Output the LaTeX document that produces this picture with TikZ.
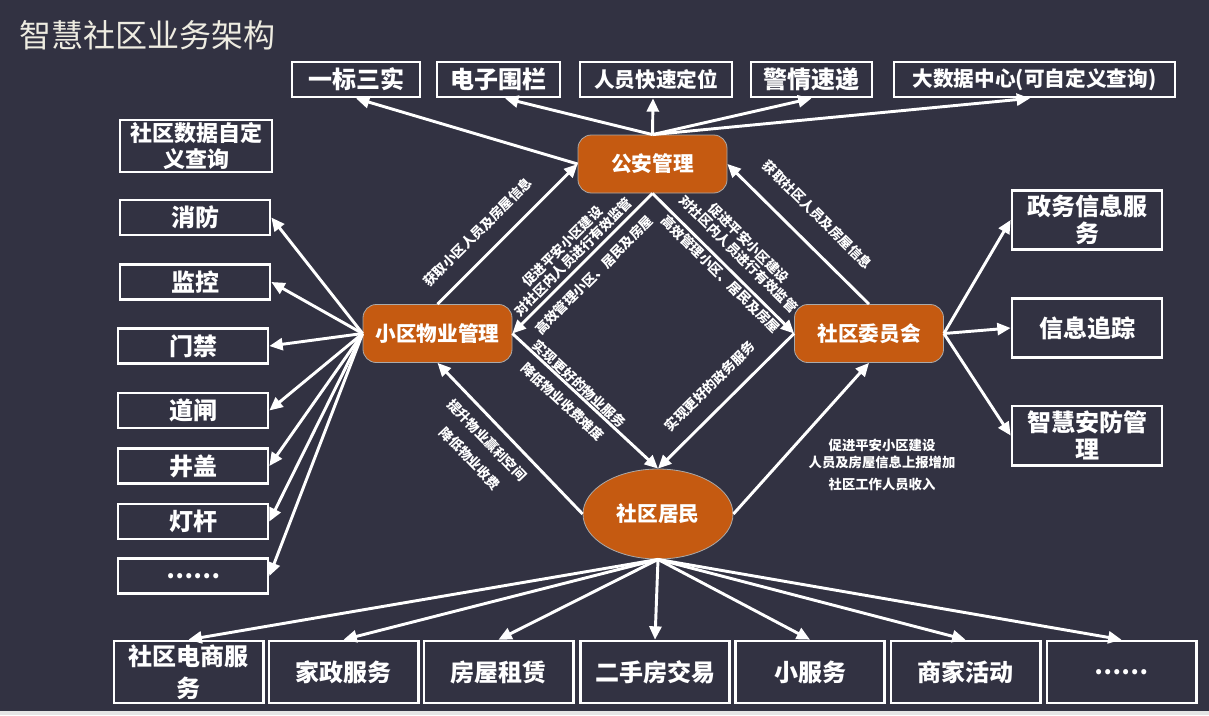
\documentclass[tikz,border=0pt]{standalone}
\usepackage{fontspec}
\setmainfont{Noto Sans CJK SC}
\usetikzlibrary{arrows.meta,shapes.geometric,calc}
\definecolor{bg}{RGB}{50,50,66}
\definecolor{org}{RGB}{197,90,17}
\definecolor{ttl}{RGB}{238,236,225}
\definecolor{edgegray}{RGB}{170,170,170}
\begin{document}
\begin{tikzpicture}[x=0.75pt,y=-0.75pt,
  bx/.style={draw=white, line width=2pt, text=white, inner sep=0pt, align=center,
    font=\bfseries\fontsize{18}{20.5}\selectfont},
  topbox/.style={bx, minimum height=26.25pt},
  lbox/.style={bx, minimum width=112.5pt, minimum height=26.25pt},
  rbox/.style={bx, minimum width=112.5pt, minimum height=44.5pt},
  bbox/.style={bx, minimum width=112pt, minimum height=46.5pt},
  core/.style={draw=edgegray, line width=0.6pt, fill=org, rounded corners=10pt, text=white,
    font=\bfseries\fontsize{15.5}{18}\selectfont, minimum width=111.75pt, minimum height=43.5pt, inner sep=0pt},
  arr/.style={draw=white, line width=2.2pt, -{Triangle[length=10pt,width=9pt]}},
  arrL/.style={draw=white, line width=2.2pt, {Triangle[length=10pt,width=9pt]}-},
  lab/.style={text=white, font=\bfseries\fontsize{10}{11.25}\selectfont, sloped, inner sep=0.5pt, align=center},
  hlab/.style={text=white, font=\bfseries\fontsize{10}{12}\selectfont, inner sep=0pt}
]
\fill[bg] (0,0) rectangle (1209,715);
\fill[gray!20] (0,711) rectangle (1209,715);
\useasboundingbox (0,0) rectangle (1209,715);

% title
\node[anchor=west, inner sep=0pt, text=ttl, font=\fontsize{24}{28}\selectfont] (title) at (19,35) {智慧社区业务架构};

% top boxes
\node[topbox, minimum width=96pt] (ybs) at (356,79.5) {一标三实};
\node[topbox, minimum width=92.25pt] (dzwl) at (498.5,79.5) {电子围栏};
\node[topbox, minimum width=114pt, font=\bfseries\fontsize{15.5}{18}\selectfont] (rykd) at (656,79.5) {人员快速定位};
\node[topbox, minimum width=90.75pt] (jqsd) at (811.5,79.5) {警情速递};
\node[topbox, minimum width=210.75pt, font=\bfseries\fontsize{15.5}{18}\selectfont] (dsj) at (1034.5,79.5) {大数据中心(可自定义查询)};

% left boxes
\node[bx, minimum width=114pt, minimum height=39pt, font=\bfseries\fontsize{16.5}{19}\selectfont] (sjcx) at (196,146) {社区数据自定\\义查询};
\node[lbox] (xf) at (195,217.5) {消防};
\node[lbox] (jk) at (195,282) {监控};
\node[lbox] (mj) at (193,346) {门禁};
\node[lbox] (dz) at (193,410.5) {道闸};
\node[lbox] (jg) at (193,466) {井盖};
\node[lbox] (dg) at (193,521.5) {灯杆};
\node[lbox] (ld) at (193,576) {……};

% right boxes
\node[rbox] (zw) at (1087,220) {政务信息服\\务};
\node[rbox] (xx) at (1087,328) {信息追踪};
\node[rbox] (af) at (1087,435.5) {智慧安防管\\理};

% bottom boxes
\node[bbox, font=\bfseries\fontsize{18}{24}\selectfont] (ds) at (188.5,672) {社区电商服\\务};
\node[bbox] (jz) at (343.5,672) {家政服务};
\node[bbox] (fw) at (498.5,672) {房屋租赁};
\node[bbox] (es) at (655,672) {二手房交易};
\node[bbox] (xfw) at (810,672) {小服务};
\node[bbox] (sjhd) at (965.5,672) {商家活动};
\node[bbox] (ld2) at (1121.5,672) {……};

% core nodes
\node[core] (ga) at (652.5,164) {公安管理};
\node[core] (wy) at (437.5,333.5) {小区物业管理};
\node[core] (sq) at (869,333.5) {社区委员会};
\node[core, ellipse, rounded corners=0pt, minimum width=112.5pt, minimum height=67.5pt] (jm) at (658,514) {社区居民};

% arrows from 公安管理 to top boxes
\draw[arr] (ga.west) -- (ybs.south);
\draw[arr] (ga.north) -- ($(dzwl.south)+(6.5,0)$);
\draw[arr] (ga.north) -- ($(rykd.south)+(-3,0)$);
\draw[arr] (ga.north) -- (jqsd.south);
\draw[arr] (ga.north) -- ($(dsj.south)+(-4.5,0)$);

% arrows from 小区物业管理 to left boxes
\foreach \t in {xf,jk,mj,dz,jg,dg,ld}{
  \draw[arr] (wy.west) -- (\t.east);
}

% arrows from 社区委员会 to right boxes
\foreach \t in {zw,xx,af}{
  \draw[arr] (sq.east) -- (\t.west);
}

% arrows from 社区居民 to bottom boxes
\foreach \t in {ds,jz,fw,es,xfw,sjhd,ld2}{
  \draw[arr] (jm.south) -- (\t.north);
}

% diamond connectors with labels
\draw[arr] (wy.north) -- node[lab, pos=0.40, above=10.3pt] (l1) {获取小区人员及房屋信息} (ga.west);
\draw[arrL] (ga.east) -- node[lab, pos=0.5, above=14pt] (l2) {获取社区人员及房屋信息} (sq.north);
\draw[arrL] (wy.east) -- node[lab, pos=0.49, above=1.9pt] (l3a) {促进平安小区建设\\对社区内人员进行有效监管}
  node[lab, pos=0.5, below=5.8pt] (l3b) {高效管理小区、居民及房屋} (ga.south);
\draw[arr] (ga.south) -- node[lab, pos=0.52, above=6.7pt] (l4a) {促进平安小区建设\\对社区内人员进行有效监管}
  node[lab, pos=0.53, below=0.75pt] (l4b) {高效管理小区、居民及房屋} (sq.west);
\draw[arr] (wy.east) -- node[lab, pos=0.42, above=0pt] (l5a) {实现更好的物业服务}
  node[lab, pos=0.42, below=5.5pt] (l5b) {降低物业收费难度} (jm.north);
\draw[arrL] (wy.south) -- node[lab, pos=0.43, below=6.9pt] (l6a) {提升物业赢利空间}
  node[lab, pos=0.437, below=25.6pt] (l6b) {降低物业收费} (jm.west);
\draw[arrL] (jm.north) -- node[lab, pos=0.495, above=10.1pt] (l7) {实现更好的政务服务} (sq.west);
\draw[arr] (jm.east) -- (sq.south);

% horizontal label
\node[hlab] (t1) at (882,445) {促进平安小区建设};
\node[hlab] (t2) at (882,462) {人员及房屋信息上报增加};
\node[hlab] (t3) at (882,484) {社区工作人员收入};
\end{tikzpicture}
\end{document}
